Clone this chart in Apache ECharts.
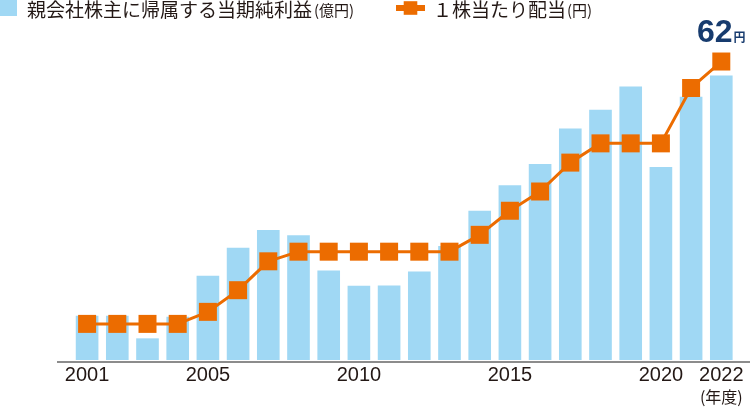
<!DOCTYPE html>
<html><head><meta charset="utf-8">
<script src="https://cdn.jsdelivr.net/npm/echarts@6/dist/echarts.min.js"></script>
<style>html,body{margin:0;padding:0;background:#fff}#c{width:750px;height:409px}</style>
</head><body><div id="c"></div>
<script>
const years = ['2001','2002','2003','2004','2005','2006','2007','2008','2009','2010','2011','2012','2013','2014','2015','2016','2017','2018','2019','2020','2021','2022'];
const shownYears = ['2001','2005','2010','2015','2020','2022'];
const netIncome = [92,92,45,90,175,233,270,259,186,154,155,184,237,310,363,407,481,520,568,401,547,591];
const dividend = [7.5,7.5,7.5,7.5,10,14.5,20.5,22.5,22.5,22.5,22.5,22.5,22.5,26,31,35,41,45,45,45,56.5,62];
const incomeName = '親会社株主に帰属する当期純利益';
const dividendName = '１株当たり配当';

const CJK = '"Noto Sans CJK JP", "Noto Sans", sans-serif';
const NUM = '"Liberation Sans Narrow", "Liberation Sans", sans-serif';
const chart = echarts.init(document.getElementById('c'), null, {renderer:'canvas'});
chart.setOption({
  animation:false,
  backgroundColor:'#fff',
  grid:{left:72, right:13.6, top:23, bottom:47},
  legend:[
    {data:[incomeName], left:0, top:0, padding:0, itemWidth:17, itemHeight:16, icon:'rect',
     formatter:n=>n+'{s|(億円)}',
     textStyle:{fontFamily:CJK, fontSize:19, color:'#231815', padding:[3,0,0,5],
       rich:{s:{fontFamily:CJK, fontSize:15, color:'#231815', padding:[2,0,0,2]}}}},
    {data:[dividendName], left:393, top:0, padding:0, itemWidth:29, itemHeight:17,
     lineStyle:{width:6},
     formatter:n=>n+'{s|(円)}',
     textStyle:{fontFamily:CJK, fontSize:19, color:'#231815', padding:[3,0,0,3],
       rich:{s:{fontFamily:CJK, fontSize:15, color:'#231815', padding:[2,0,0,1]}}}}
  ],
  xAxis:{type:'category', data:years,
    axisLine:{show:false}, axisTick:{show:false},
    axisLabel:{interval:0, margin:5, fontFamily:NUM, fontSize:20, lineHeight:20, color:'#231815',
      formatter:(v)=>{
        if(!shownYears.includes(v)) return '';
        if(v===years[years.length-1]) return v+'\n{u|(年度)}';
        return v;
      },
      rich:{u:{fontFamily:CJK, fontSize:16, color:'#231815', lineHeight:24}}}},
  yAxis:[
    {type:'value', min:0, max:700, show:false, splitLine:{show:false}},
    {type:'value', min:0, max:70, show:false, splitLine:{show:false}}
  ],
  graphic:[{type:'line', shape:{x1:57,y1:362,x2:750,y2:362}, style:{stroke:'#8c8c8c', lineWidth:2}, z:0}],
  series:[
    {name:incomeName, type:'bar', data:netIncome, yAxisIndex:0, barCategoryGap:'25%',
     itemStyle:{color:'#A0D8F4'}, z:1},
    {name:dividendName, type:'line', data:dividend.map((v,i)=> i===dividend.length-1 ? {value:v, label:{show:true}} : v),
     yAxisIndex:1, symbol:'rect', symbolSize:18,
     lineStyle:{color:'#EC6C00', width:3}, itemStyle:{color:'#EC6C00'}, z:3,
     label:{show:false, position:'top', distance:3, formatter:p=>'{a|'+p.value+'}{b|円}',
       rich:{a:{fontFamily:NUM, fontSize:32, fontWeight:'bold', color:'#173B6E'},
             b:{fontFamily:CJK, fontSize:12, fontWeight:'bold', color:'#173B6E', padding:[8,0,0,1]}}}}
  ]
});
</script></body></html>
